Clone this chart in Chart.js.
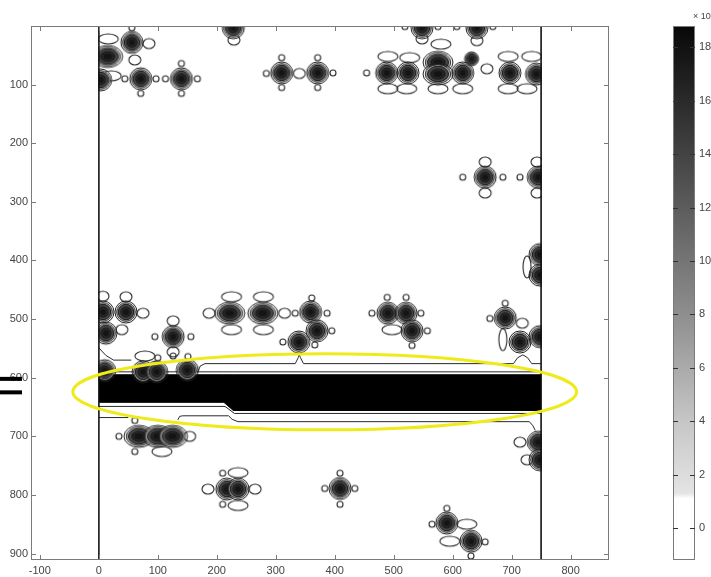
<!DOCTYPE html>
<html><head><meta charset="utf-8">
<script src="https://cdn.jsdelivr.net/npm/chart.js@4"></script>
<style>
html,body{margin:0;padding:0;background:#fff;width:711px;height:577px;overflow:hidden}
#main{position:absolute;left:0;top:0}
#cb{position:absolute;left:640px;top:0}
</style></head><body>
<canvas id="main" width="711" height="577"></canvas>
<canvas id="cb" width="71" height="577"></canvas>
<script>
// ---------- axis ranges / ticks ----------
const xRange = [-115, 865];
const yRange = [0, 911];
const xTickStep = 100;
const yTickStep = 100;
const dataXBounds = [0, 750];          // vertical boundary lines of the data
const cbRange = [-1.2, 18.8];          // colorbar values
const cbTicks = [0, 2, 4, 6, 8, 10, 12, 14, 16, 18];
const cbLabel = '× 10';

// ---------- band (strong ridge) ----------
const bandTop    = [[0,595],[212,595],[228,595],[750,595]];
const bandBottom = [[0,642],[212,642],[228,656],[750,656]];

// ---------- contour lines ----------
const contourA = [[0,590],[750,590]];
const contourB = [[0,649],[214,649],[230,661],[750,661]];
const contourC = [[0,549],[12,562],[25,570],[55,570]];
const contourD = [[168,590],[172,580],[180,576],[333,576],[338,566],[340,561],[342,566],[347,576],[703,576],[710,566],[719,561],[727,566],[734,576],[750,576]];
const contourE = [[134,672],[137,666],[142,665],[220,665],[226,671],[236,675],[730,675],[736,682],[740,690]];
const contourF = [[0,668],[50,668]];

// ---------- peaks ----------
const bigPeaks = [[56,28],[3,92],[71,90],[140,90],[228,3],[310,80],[371,80],
 [548,3],[641,3],[488,80],[524,80],[617,80],[697,80],[742,82],
 [655,258],[745,258],[748,390],[748,425],
 [7,488],[46,488],[12,524],[126,530],[359,488],[370,520],[339,539],
 [490,490],[521,490],[531,520],[689,498],[714,539],[748,530],
 [10,588],[75,590],[98,590],[150,587],
 [217,790],[236,790],[409,789],[590,848],[631,879],[745,710],[748,740]];
const widePeaks = [[222,490],[278,490],[575,62],[575,82],[68,700],[100,700],[125,700],[15,52]];
const smallPeaks = [[632,56]];

// ---------- side-lobe rings ----------
const ringsSmall = [[97,90],[113,90],[167,90],[140,64],[140,115],[71,115],[44,90],
 [284,81],[397,80],[310,54],[310,105],[371,54],[371,105],
 [56,3],[519,1],[575,1],[607,1],[668,1],
 [454,80],[617,258],[685,258],[714,258],
 [95,530],[156,530],[333,490],[361,464],[387,490],[395,520],[312,539],[366,544],
 [463,490],[546,490],[557,520],[531,545],[489,463],[521,463],
 [663,499],[689,473],
 [34,700],[61,673],[61,726],
 [210,763],[210,816],[383,789],[434,789],[409,763],[409,816],
 [590,823],[565,850],[655,880],[631,904],
 [126,563],[100,566],[151,564]];
const ringsMed = [[340,81],[229,24],[548,22],[641,25],[655,232],[655,285],[75,490],[187,490],[315,490],
 [154,700],[185,790],[265,790],[126,503],[126,556],[714,710],[726,740],[7,461],[46,462],
 [61,58],[85,30],[658,73],[39,518],[718,507],[743,232],[743,285]];
const ringsWide = [[490,52],[527,54],[580,31],[490,107],[522,107],[575,107],[617,107],[694,52],[694,107],
 [734,52],[726,107],[225,462],[279,462],[225,518],[279,518],[78,563],[107,726],[236,762],[236,818],
 [497,518],[624,850],[595,879],[16,22],[21,85]];
const ringsTall = [[726,411],[685,535]];

// ---------- annotations ----------
const highlight = {cx:383, cy:624, rx:427, ry:65};
const sideMarkers = [602, 625];

// ======================================================
const pts = a => a.map(([x,y]) => ({x, y}));

function makeBlob(rx, ry){
  const c = document.createElement('canvas');
  c.width = 2*rx+4; c.height = 2*ry+4;
  const g = c.getContext('2d'), cx = c.width/2, cy = c.height/2;
  const lv = [[1,null,'#1e1e1e'],[0.85,'#a8a8a8','#333'],[0.7,'#484848','#1a1a1a'],
              [0.52,'#202020',null],[0.32,'#141414','#2a2a2a']];
  g.lineWidth = 1;
  for (const [k,f,s] of lv){
    g.beginPath(); g.ellipse(cx,cy,rx*k,ry*k,0,0,Math.PI*2);
    if (f){ g.fillStyle = f; g.fill(); }
    if (s){ g.strokeStyle = s; g.stroke(); }
  }
  return c;
}
function makeRing(rx, ry){
  const c = document.createElement('canvas');
  c.width = 2*rx+4; c.height = 2*ry+4;
  const g = c.getContext('2d');
  g.beginPath(); g.ellipse(c.width/2,c.height/2,rx,ry,0,0,Math.PI*2);
  g.strokeStyle = '#2a2a2a'; g.lineWidth = 1.1; g.stroke();
  return c;
}

const lineDS = (arr, extra) => Object.assign({
  data: pts(arr), borderColor:'#2a2a2a', borderWidth:1, pointRadius:0, tension:0, fill:false, order:3
}, extra || {});
const pointDS = (arr, img, order) => ({
  data: pts(arr), showLine:false, pointStyle: img, pointRadius:5, pointBorderWidth:0, order
});

const datasets = [
  lineDS([[dataXBounds[0],yRange[0]],[dataXBounds[0],yRange[1]]], {borderColor:'#111', order:0}),
  lineDS([[dataXBounds[1],yRange[0]],[dataXBounds[1],yRange[1]]], {borderColor:'#111', order:0}),
  pointDS(bigPeaks, makeBlob(11,11), 1),
  pointDS(widePeaks, makeBlob(15,11), 1),
  pointDS(smallPeaks, makeBlob(7,7), 1),
  pointDS(ringsSmall, makeRing(3,3), 2),
  pointDS(ringsMed, makeRing(6,5), 2),
  pointDS(ringsWide, makeRing(10,5), 2),
  pointDS(ringsTall, makeRing(4,11), 2),
  lineDS(contourA), lineDS(contourB), lineDS(contourC), lineDS(contourD), lineDS(contourE), lineDS(contourF),
  lineDS(bandTop, {borderColor:'#000', order:4}),
  lineDS(bandBottom, {borderColor:'#000', order:4, fill:'-1', backgroundColor:'#000'})
];

const FONT = {family:'"Liberation Sans", Arial, sans-serif', size:11};

const framePlugin = {
  id:'frame',
  beforeDatasetsDraw(chart){
    const {ctx, scales:{x}, chartArea:a} = chart;
    const l = x.getPixelForValue(dataXBounds[0]) - 0.6, r = x.getPixelForValue(dataXBounds[1]) + 0.6;
    ctx.save(); ctx.beginPath(); ctx.rect(l, a.top, r-l, a.bottom-a.top); ctx.clip();
  },
  afterDatasetsDraw(chart){
    const {ctx, scales:{x,y}, chartArea:a} = chart;
    ctx.restore();
    ctx.save();
    const cx = x.getPixelForValue(highlight.cx), cy = y.getPixelForValue(highlight.cy);
    const rx = Math.abs(x.getPixelForValue(highlight.cx+highlight.rx)-cx);
    const ry = Math.abs(y.getPixelForValue(highlight.cy+highlight.ry)-cy);
    ctx.beginPath(); ctx.ellipse(cx, cy, rx, ry, 0, 0, Math.PI*2);
    ctx.strokeStyle = '#eeea1c'; ctx.lineWidth = 3; ctx.stroke();
    ctx.strokeStyle = '#7a7a7a'; ctx.lineWidth = 1;
    ctx.strokeRect(a.left+0.5, a.top+0.5, a.right-a.left-1, a.bottom-a.top-1);
    ctx.beginPath();
    for (const t of x.ticks){
      const p = Math.round(x.getPixelForValue(t.value))+0.5;
      ctx.moveTo(p, a.bottom); ctx.lineTo(p, a.bottom-5);
      ctx.moveTo(p, a.top); ctx.lineTo(p, a.top+5);
    }
    for (const t of y.ticks){
      const p = Math.round(y.getPixelForValue(t.value))+0.5;
      ctx.moveTo(a.left, p); ctx.lineTo(a.left+5, p);
      ctx.moveTo(a.right, p); ctx.lineTo(a.right-5, p);
    }
    ctx.stroke();
    ctx.fillStyle = '#000';
    for (const v of sideMarkers){
      const p = y.getPixelForValue(v);
      ctx.fillRect(0, p-2, a.left-9, 4);
    }
    ctx.restore();
  }
};

new Chart(document.getElementById('main'), {
  type:'line',
  data:{datasets},
  options:{
    responsive:false, animation:false, events:[],
    layout:{padding:{top:26, right:102, left:0, bottom:0}},
    plugins:{legend:{display:false}, tooltip:{enabled:false}},
    scales:{
      x:{type:'linear', min:xRange[0], max:xRange[1],
         ticks:{stepSize:xTickStep, includeBounds:false, color:'#444', font:FONT, padding:4, maxRotation:0},
         grid:{display:false, drawTicks:false}, border:{display:false},
         afterFit(s){ s.height = 17; }},
      y:{type:'linear', reverse:true, min:yRange[0], max:yRange[1],
         afterBuildTicks(s){ s.ticks = s.ticks.filter(t => t.value > 0 && t.value % yTickStep === 0); },
         ticks:{stepSize:yTickStep, includeBounds:false, color:'#444', font:FONT, padding:3},
         grid:{display:false, drawTicks:false}, border:{display:false},
         afterFit(s){ s.width = 31; }}
    }
  },
  plugins:[framePlugin]
});

// ---------------- colorbar ----------------
const cbPlugin = {
  id:'cbframe',
  afterDatasetsDraw(chart){
    const {ctx, scales:{y}, chartArea:a} = chart;
    ctx.save();
    ctx.strokeStyle = '#7a7a7a'; ctx.lineWidth = 1;
    ctx.strokeRect(a.left+0.5, a.top+0.5, a.right-a.left-1, a.bottom-a.top-1);
    ctx.strokeStyle = '#333';
    ctx.beginPath();
    for (const t of y.ticks){
      const p = Math.round(y.getPixelForValue(t.value))+0.5;
      ctx.moveTo(a.left, p); ctx.lineTo(a.left+5, p);
      ctx.moveTo(a.right, p); ctx.lineTo(a.right-5, p);
    }
    ctx.stroke();
    ctx.fillStyle = '#444'; ctx.font = '9px "Liberation Sans", Arial, sans-serif';
    ctx.fillText(cbLabel, a.right-2, a.top-7);
    ctx.restore();
  }
};

function cbGradient(context){
  const chart = context.chart, a = chart.chartArea;
  if (!a) return '#888';
  const y = chart.scales.y;
  const g = chart.ctx.createLinearGradient(0, y.getPixelForValue(cbRange[0]), 0, y.getPixelForValue(cbRange[1]));
  const off = v => (v - cbRange[0])/(cbRange[1]-cbRange[0]);
  g.addColorStop(0, '#ffffff');
  g.addColorStop(off(1.1), '#ffffff');
  g.addColorStop(off(1.3), '#e4e4e4');
  g.addColorStop(off(4), '#c6c6c6');
  g.addColorStop(off(8), '#8e8e8e');
  g.addColorStop(off(12), '#5c5c5c');
  g.addColorStop(off(16), '#2a2a2a');
  g.addColorStop(1, '#080808');
  return g;
}

new Chart(document.getElementById('cb'), {
  type:'bar',
  data:{labels:['c'], datasets:[{data:[cbRange], backgroundColor:cbGradient, borderWidth:0,
        barPercentage:1, categoryPercentage:1}]},
  options:{
    responsive:false, animation:false, events:[],
    layout:{padding:{left:33, top:26, bottom:17, right:0}},
    plugins:{legend:{display:false}, tooltip:{enabled:false}},
    scales:{
      x:{display:false},
      y:{position:'right', min:cbRange[0], max:cbRange[1],
         afterBuildTicks(s){ s.ticks = cbTicks.map(v => ({value:v})); },
         ticks:{color:'#444', font:FONT, padding:4},
         grid:{display:false, drawTicks:false}, border:{display:false},
         afterFit(s){ s.width = 16; }}
    }
  },
  plugins:[cbPlugin]
});
</script>
</body></html>
